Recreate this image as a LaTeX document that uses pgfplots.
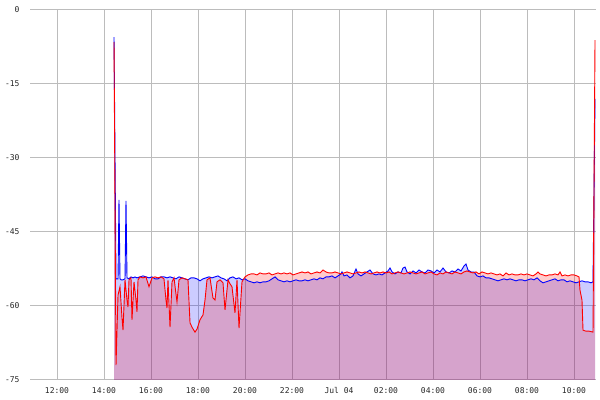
\documentclass[border=0pt]{standalone}
\usepackage{pgfplots}
\usepackage{pgfplotstable}
\pgfplotsset{compat=1.18}
\usepgfplotslibrary{fillbetween}
\usepackage{fontspec}
\setmainfont{DejaVu Sans Mono}
\definecolor{gridc}{RGB}{188,188,188}
\definecolor{pblue}{RGB}{0,0,255}
\definecolor{pred}{RGB}{255,0,0}

\pgfplotstableread{
h v
2.426 -5.5
2.511 -54.5
2.596 -54.5
2.638 -38.5
2.681 -54.5
2.723 -54.7
2.809 -54.7
2.894 -54.5
2.936 -38.7
2.979 -54.3
3.064 -54.5
3.149 -54.1
3.234 -54.3
3.319 -54.1
3.404 -54.3
3.532 -54.1
3.660 -53.9
3.787 -54.1
3.915 -54.3
4.043 -54.1
4.170 -54.5
4.298 -54.5
4.426 -54.1
4.553 -54.1
4.681 -54.3
4.809 -54.1
4.936 -54.3
5.064 -54.5
5.191 -54.1
5.319 -54.3
5.447 -54.5
5.574 -54.7
5.702 -54.3
5.830 -54.3
5.957 -54.5
6.085 -54.9
6.213 -54.5
6.340 -54.3
6.468 -54.1
6.596 -54.3
6.723 -54.1
6.851 -53.9
6.979 -54.3
7.106 -54.5
7.234 -54.9
7.362 -54.3
7.489 -54.1
7.617 -54.5
7.745 -54.3
7.872 -54.7
8.000 -54.5
8.128 -54.9
8.255 -55.1
8.383 -55.3
8.511 -55.1
8.638 -55.3
8.766 -55.1
8.894 -55.1
9.021 -54.9
9.149 -54.5
9.277 -54.1
9.404 -54.7
9.532 -54.9
9.660 -55.1
9.787 -54.9
9.915 -55.1
10.043 -54.9
10.170 -54.7
10.298 -54.9
10.426 -54.9
10.553 -54.7
10.681 -54.9
10.809 -54.7
10.936 -54.5
11.064 -54.7
11.191 -54.3
11.319 -54.5
11.447 -54.1
11.574 -54.1
11.702 -53.9
11.830 -54.3
11.957 -53.9
12.085 -53.5
12.128 -53.1
12.213 -53.9
12.340 -53.7
12.468 -54.3
12.596 -53.9
12.723 -52.5
12.809 -53.5
12.936 -53.9
13.064 -53.5
13.191 -53.1
13.319 -52.7
13.447 -53.5
13.574 -53.7
13.702 -53.5
13.830 -53.7
13.957 -53.3
14.085 -52.9
14.170 -52.3
14.255 -53.1
14.383 -53.5
14.511 -53.1
14.638 -53.3
14.723 -52.3
14.809 -52.1
14.894 -53.1
15.021 -53.5
15.149 -52.9
15.277 -53.3
15.404 -52.7
15.532 -53.1
15.660 -53.3
15.787 -52.7
15.915 -52.9
16.043 -53.3
16.170 -52.7
16.298 -53.1
16.426 -52.3
16.553 -53.1
16.681 -53.3
16.809 -52.9
16.936 -53.1
17.064 -52.5
17.191 -52.9
17.319 -51.9
17.404 -51.5
17.489 -52.7
17.617 -53.1
17.745 -53.1
17.872 -53.9
18.000 -54.1
18.128 -53.9
18.255 -54.3
18.383 -54.3
18.511 -54.5
18.638 -54.7
18.766 -54.9
18.894 -54.7
19.021 -54.5
19.149 -54.7
19.277 -54.5
19.404 -54.7
19.532 -54.9
19.660 -54.7
19.787 -54.7
19.915 -54.9
20.043 -54.7
20.170 -54.5
20.298 -54.7
20.426 -54.3
20.553 -54.9
20.681 -55.3
20.809 -55.1
20.936 -54.9
21.064 -54.7
21.191 -54.5
21.319 -54.9
21.447 -54.7
21.574 -54.7
21.702 -55.1
21.830 -54.9
21.957 -55.1
22.085 -55.3
22.213 -55.1
22.340 -54.9
22.468 -55.1
22.596 -55.1
22.723 -55.3
22.809 -55.1
22.894 -18.0
}\bluedata

\pgfplotstableread{
h v
2.426 -6.5
2.511 -72.0
2.596 -57.8
2.681 -56.1
2.766 -62.4
2.809 -64.9
2.894 -54.7
2.979 -58.8
3.021 -60.2
3.064 -54.7
3.149 -54.3
3.191 -62.8
3.277 -55.1
3.362 -58.8
3.404 -61.2
3.447 -54.7
3.532 -54.1
3.660 -54.3
3.787 -54.1
3.915 -56.1
4.043 -54.3
4.170 -54.1
4.298 -54.3
4.426 -54.1
4.553 -54.5
4.638 -58.8
4.681 -60.4
4.723 -54.7
4.809 -64.3
4.894 -55.1
4.979 -54.3
5.106 -59.2
5.191 -54.7
5.319 -54.3
5.447 -54.5
5.574 -54.7
5.660 -63.4
5.745 -64.3
5.872 -65.3
5.957 -64.7
6.085 -62.8
6.213 -61.8
6.298 -58.8
6.383 -54.7
6.511 -54.3
6.638 -58.4
6.723 -58.8
6.809 -55.1
6.936 -54.7
7.064 -55.3
7.149 -60.8
7.277 -54.7
7.362 -55.5
7.447 -56.1
7.574 -61.4
7.660 -54.7
7.745 -64.5
7.872 -55.1
8.000 -54.1
8.128 -53.7
8.255 -53.5
8.383 -53.5
8.511 -53.7
8.638 -53.3
8.766 -53.5
8.894 -53.5
9.021 -53.3
9.149 -53.7
9.277 -53.5
9.404 -53.3
9.532 -53.5
9.660 -53.3
9.787 -53.5
9.915 -53.3
10.043 -53.7
10.170 -53.5
10.298 -53.3
10.426 -53.1
10.553 -53.3
10.681 -53.1
10.809 -53.5
10.936 -53.3
11.064 -53.1
11.191 -53.3
11.319 -52.7
11.447 -53.1
11.574 -53.3
11.702 -53.3
11.830 -53.1
11.957 -53.3
12.085 -53.5
12.213 -53.3
12.340 -53.1
12.468 -53.3
12.596 -53.5
12.723 -53.3
12.851 -53.1
12.979 -53.3
13.106 -53.1
13.234 -53.3
13.362 -53.5
13.489 -53.3
13.617 -53.1
13.745 -53.3
13.872 -53.1
14.000 -53.3
14.128 -53.1
14.255 -53.5
14.383 -53.3
14.511 -53.1
14.638 -53.3
14.766 -53.5
14.894 -53.3
15.021 -53.1
15.149 -53.3
15.277 -53.5
15.404 -53.3
15.532 -53.1
15.660 -53.5
15.787 -53.3
15.915 -53.1
16.043 -53.5
16.170 -53.7
16.298 -53.3
16.426 -53.5
16.553 -53.1
16.681 -53.3
16.809 -53.5
16.936 -53.1
17.064 -53.3
17.191 -53.5
17.319 -53.1
17.447 -52.9
17.574 -53.1
17.702 -53.3
17.830 -53.1
17.957 -53.5
18.085 -53.1
18.213 -53.3
18.340 -53.5
18.468 -53.3
18.596 -53.5
18.723 -53.7
18.851 -53.5
18.979 -53.9
19.106 -53.3
19.234 -53.7
19.362 -53.5
19.489 -53.7
19.617 -53.7
19.745 -53.5
19.872 -53.7
20.000 -53.5
20.128 -53.7
20.255 -53.9
20.383 -53.5
20.468 -53.1
20.553 -53.5
20.681 -53.7
20.809 -53.9
20.936 -53.7
21.064 -53.7
21.191 -53.5
21.319 -53.7
21.404 -53.1
21.489 -53.9
21.617 -53.7
21.745 -53.9
21.872 -53.7
22.000 -53.7
22.128 -53.9
22.213 -54.1
22.255 -56.8
22.340 -58.8
22.383 -64.9
22.511 -65.1
22.638 -65.1
22.809 -65.3
22.894 -6.1
}\reddata

\begin{document}
\begin{tikzpicture}
\begin{axis}[
  scale only axis,
  width=566pt, height=370pt,
  xmin=-1.149, xmax=22.936,
  ymin=-75, ymax=0,
  axis line style={draw=none},
  major tick length=0pt,
  xtick={0,2,...,22},
  xticklabels={12:00,14:00,16:00,18:00,20:00,22:00,Jul 04,02:00,04:00,06:00,08:00,10:00},
  ytick={-75,-60,-45,-30,-15,0},
  yticklabels={-75,-60,-45,-30,-15,0},
  grid=major,
  grid style={gridc, line width=1pt},
  tick label style={font=\fontsize{8}{9}\selectfont, text=black!85},
  yticklabel style={xshift=-7pt},
  xticklabel style={yshift=-4pt},
  clip=true,
]
\addplot[name path=B, draw=none] table[x=h, y=v] {\bluedata};
\addplot[name path=R, draw=none] table[x=h, y=v] {\reddata};
\addplot[name path=Z, draw=none] coordinates {(2.426,-75) (22.894,-75)};
\addplot[fill=pblue, fill opacity=0.2, draw=none] fill between[of=B and Z];
\addplot[fill=pred, fill opacity=0.2, draw=none] fill between[of=R and Z];
\addplot[pblue, line width=0.9pt] table[x=h, y=v] {\bluedata};
\addplot[pred, line width=0.9pt] table[x=h, y=v] {\reddata};
\end{axis}
\pgfresetboundingbox
\path[use as bounding box] ([xshift=-30pt,yshift=-20pt]current axis.south west) rectangle ([xshift=4pt,yshift=10pt]current axis.north east);
\end{tikzpicture}
\end{document}
